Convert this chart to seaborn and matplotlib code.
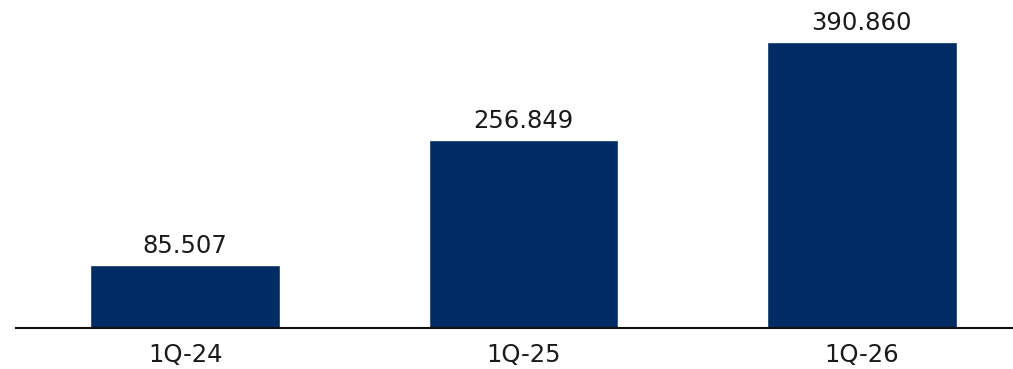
import matplotlib
matplotlib.use("Agg")
import matplotlib.pyplot as plt
import seaborn as sns
import pandas as pd

quarters = ["1Q-24", "1Q-25", "1Q-26"]
values = [85.507, 256.849, 390.860]
labels = ["85.507", "256.849", "390.860"]

df = pd.DataFrame({"quarter": quarters, "value": values})

sns.set_style("white")
plt.rcParams["font.family"] = ["DejaVu Sans"]

fig = plt.figure(figsize=(10.13, 3.69), dpi=100)
ax = fig.add_axes([16 / 1013, 41 / 369, 997 / 1013, 328 / 369])

# bars
sns.barplot(data=df, x="quarter", y="value", color="#002B63", width=0.56,
            saturation=1, ax=ax)

# value labels above each bar
for i, (v, lab) in enumerate(zip(values, labels)):
    ax.annotate(lab, (i, v), xytext=(0, 5), textcoords="offset points",
                ha="center", va="bottom", fontsize=17.5, color="#1a1a1a")

ax.set_xlim(-0.5, 2.447)
ax.set_ylim(0, 448.3)
ax.set_xlabel("")
ax.set_ylabel("")
ax.set_yticks([])
ax.tick_params(axis="x", length=0, pad=11, labelsize=17.5, labelcolor="#1a1a1a")
for s in ["top", "right", "left"]:
    ax.spines[s].set_visible(False)
ax.spines["bottom"].set_color("#111111")
ax.spines["bottom"].set_linewidth(1.5)

fig.savefig("out.png", dpi=100)
